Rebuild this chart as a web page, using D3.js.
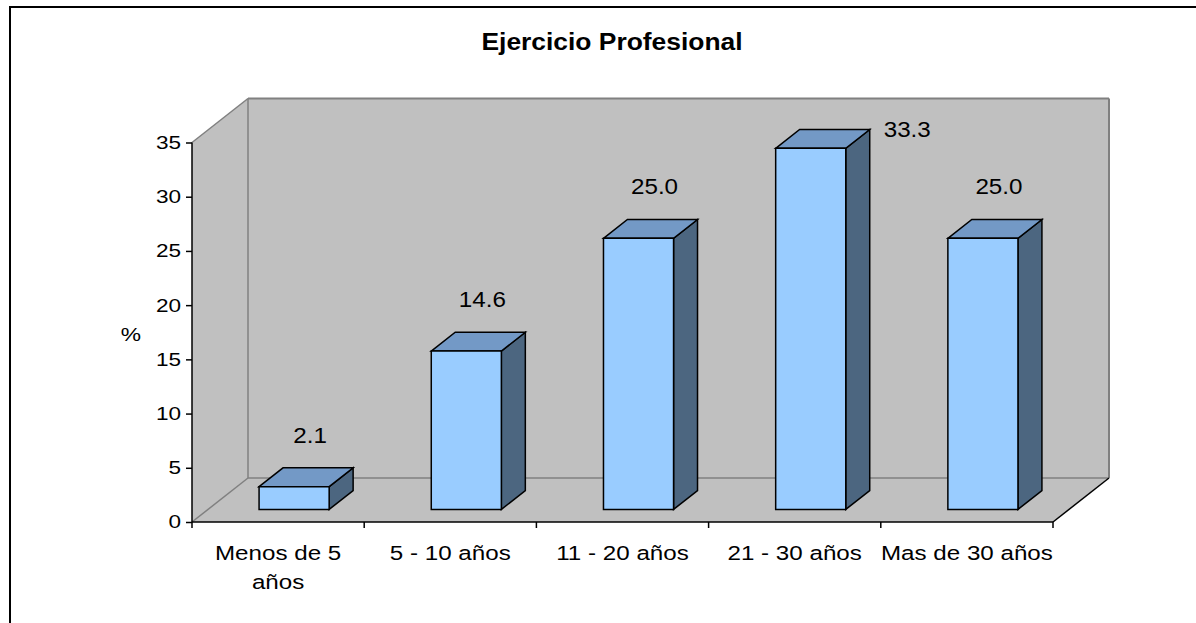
<!DOCTYPE html>
<html><head><meta charset="utf-8">
<script src="https://cdn.jsdelivr.net/npm/d3@7"></script>
<style>body{margin:0;background:#fff}svg{display:block}text{font-family:"Liberation Sans",Arial,sans-serif;fill:#000}</style>
</head><body>
<svg id="c" width="1196" height="623"></svg>
<script>
const title = "Ejercicio Profesional";
const yAxisTitle = "%";
const categories = ["Menos de 5 años", "5 - 10 años", "11 - 20 años", "21 - 30 años", "Mas de 30 años"];
const categoryLines = [["Menos de 5", "años"], ["5 - 10 años"], ["11 - 20 años"], ["21 - 30 años"], ["Mas de 30 años"]];
const values = [2.1, 14.6, 25.0, 33.3, 25.0];
const yTicks = [0, 5, 10, 15, 20, 25, 30, 35];

const svg = d3.select("#c");
const W = 1196, H = 623;
const x0 = 192, x1 = 1053, yBottom = 522, yTop = 142.5;
const DX = 56, DY = -44;          // full depth vector of the 3D box
const f0 = 0.286, f1 = 0.714;     // bar depth fractions
const barFrac = 0.407;            // bar width relative to category band

const x = d3.scaleBand().domain(categories).range([x0, x1]).padding(0);
const y = d3.scaleLinear().domain([0, 35]).range([yBottom, yTop]);

// outer border
svg.append("rect").attr("x", 10).attr("y", 7).attr("width", W + 20).attr("height", H + 20)
  .attr("fill", "#fff").attr("stroke", "#000").attr("stroke-width", 2);

const gray = "#C0C0C0", edge = "#808080";
const pts = a => a.map(p => p.join(",")).join(" ");
const yMax = y(35);
// walls & floor
svg.append("polygon").attr("points", pts([[x0 + DX, yMax + DY], [x1 + DX, yMax + DY], [x1 + DX, yBottom + DY], [x0 + DX, yBottom + DY]])).attr("fill", gray);
svg.append("polygon").attr("points", pts([[x0, yMax], [x0 + DX, yMax + DY], [x0 + DX, yBottom + DY], [x0, yBottom]])).attr("fill", gray);
svg.append("polygon").attr("points", pts([[x0, yBottom], [x1, yBottom], [x1 + DX, yBottom + DY], [x0 + DX, yBottom + DY]])).attr("fill", gray);
const line = (a, b, c, w) => svg.append("line").attr("x1", a[0]).attr("y1", a[1]).attr("x2", b[0]).attr("y2", b[1]).attr("stroke", c).attr("stroke-width", w || 1.5);
line([x0, yMax], [x0 + DX, yMax + DY], edge);
line([x0 + DX, yMax + DY], [x1 + DX, yMax + DY], edge, 2);
line([x1 + DX, yMax + DY], [x1 + DX, yBottom + DY], edge, 2);
line([x0 + DX, yMax + DY], [x0 + DX, yBottom + DY], edge);
line([x0 + DX, yBottom + DY], [x1 + DX, yBottom + DY], edge);
line([x0, yBottom], [x0 + DX, yBottom + DY], edge);
line([x1, yBottom], [x1 + DX, yBottom + DY], "#000");

// y axis
const yAxisG = svg.append("g").attr("transform", `translate(${x0},0)`)
  .call(d3.axisLeft(y).tickValues(yTicks).tickSize(6).tickPadding(5).tickFormat(d3.format("d")));
yAxisG.select(".domain").attr("stroke", "#000").attr("stroke-width", 1.5).attr("d", `M0,${y(35)}V${y(0)}`);
yAxisG.selectAll(".tick line").attr("stroke", "#000").attr("stroke-width", 1.5);
yAxisG.selectAll(".tick text").attr("font-size", 18.5).style("font-family", "Liberation Sans, Arial, sans-serif")
  .attr("fill", "#000")
  .each(function () {
    const t = d3.select(this);
    const tx = +t.attr("x");
    t.attr("x", null).attr("transform", `translate(${tx},0) scale(1.22,1)`);
  });

// x axis
const xAxisG = svg.append("g").attr("transform", `translate(0,${yBottom})`)
  .call(d3.axisBottom(x).tickSize(0).tickFormat(""));
xAxisG.select(".domain").attr("stroke", "#000").attr("stroke-width", 1.5).attr("d", `M${x0},0H${x1}`);
const bounds = categories.map(c => x(c)).concat([x1]);
xAxisG.selectAll(".xt").data(bounds).enter().append("line").attr("class", "xt")
  .attr("x1", d => d).attr("x2", d => d).attr("y1", 0).attr("y2", 6).attr("stroke", "#000").attr("stroke-width", 1.5);

categories.forEach((c, i) => {
  const cx = x(c) + x.bandwidth() / 2;
  const t = svg.append("text").attr("text-anchor", "middle").attr("font-size", 19.5)
    .attr("transform", `translate(${cx},${yBottom + 38}) scale(1.24,1)`);
  categoryLines[i].forEach((ln, j) => t.append("tspan").attr("x", 0).attr("y", j * 29).text(ln));
});

// bars
const bw = x.bandwidth() * barFrac;
values.forEach((v, i) => {
  const c = categories[i];
  const bx = x(c) + (x.bandwidth() - bw) / 2;
  const fx = bx + DX * f0, fy = DY * f0;
  const ddx = DX * (f1 - f0), ddy = DY * (f1 - f0);
  const yt = y(v) + fy, yb = y(0) + fy;
  const g = svg.append("g").attr("stroke", "#000").attr("stroke-width", 1.5).attr("stroke-linejoin", "miter");
  g.append("polygon").attr("points", pts([[fx + bw, yt], [fx + bw + ddx, yt + ddy], [fx + bw + ddx, yb + ddy], [fx + bw, yb]])).attr("fill", "#4C6680");
  g.append("polygon").attr("points", pts([[fx, yt], [fx + ddx, yt + ddy], [fx + bw + ddx, yt + ddy], [fx + bw, yt]])).attr("fill", "#7399C6");
  g.append("polygon").attr("points", pts([[fx, yt], [fx + bw, yt], [fx + bw, yb], [fx, yb]])).attr("fill", "#99CCFF");

  // data label
  const backTop = yt + ddy;
  let lx = fx + bw / 2 + 16, ly = backTop - 33, anchor = "middle";
  if (ly - 10 < yMax + DY) { lx = fx + bw + ddx + 14; ly = backTop; anchor = "start"; }
  svg.append("text").attr("text-anchor", anchor).attr("font-size", 22).attr("dy", "0.35em")
    .attr("transform", `translate(${lx},${ly}) scale(1.1,1)`).text(d3.format(".1f")(v));
});

// axis title & chart title
svg.append("text").attr("text-anchor", "middle").attr("font-size", 19).attr("dy", "0.35em")
  .attr("transform", `translate(131,334) scale(1.2,1)`).text(yAxisTitle);
svg.append("text").attr("text-anchor", "middle").attr("font-size", 24).attr("font-weight", "bold")
  .attr("transform", `translate(612,50) scale(1.1,1)`).text(title);
</script>
</body></html>
